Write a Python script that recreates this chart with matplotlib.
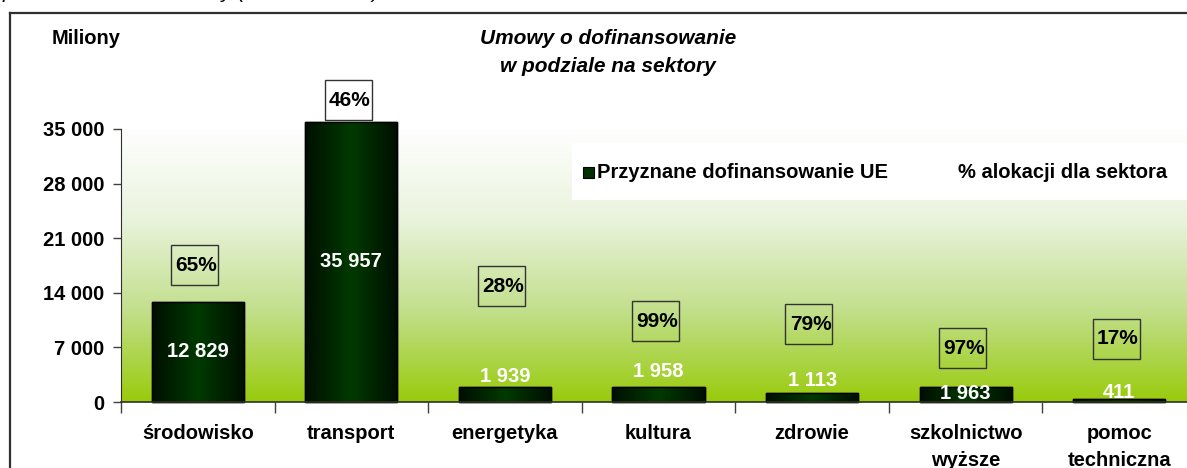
import numpy as np
import matplotlib
matplotlib.use("Agg")
import matplotlib.pyplot as plt
from matplotlib.colors import LinearSegmentedColormap
from matplotlib.patches import Rectangle
from matplotlib.lines import Line2D

plt.rcParams['font.family'] = ['Liberation Sans', 'DejaVu Sans']

# ---------------- data ----------------
categories = ["środowisko", "transport", "energetyka", "kultura", "zdrowie",
              "szkolnictwo\nwyższe", "pomoc\ntechniczna"]
values = [12829, 35957, 1939, 1958, 1113, 1963, 411]
value_labels = ["12 829", "35 957", "1 939", "1 958", "1 113", "1 963", "411"]
pct_labels = ["65%", "46%", "28%", "99%", "79%", "97%", "17%"]
yticks = [0, 7000, 14000, 21000, 28000, 35000]
ytick_labels = ["0", "7 000", "14 000", "21 000", "28 000", "35 000"]

# ---------------- layout (label placement, data units) ----------------
value_label_y = [None, None, 3333, 3974, 2820, 1026, 1282]   # None -> middle of bar
pct_box_y = [17560, 38700, 14870, 10380, 10000, 6920, 8080]

W, H = 1187, 468
fig = plt.figure(figsize=(W / 100, H / 100), dpi=100)

ax_left, ax_right = 121, 1196
ax_bottom, ax_top = 402, 129
ax = fig.add_axes([ax_left / W, (H - ax_bottom) / H,
                   (ax_right - ax_left) / W, (ax_bottom - ax_top) / H])
ymax = 35000
x = np.arange(len(categories))

# background gradient (white -> yellow green)
bg = LinearSegmentedColormap.from_list("bg", ["#99cb0c", "#c2df8c", "#e9f3dc", "#ffffff"])
grad = np.linspace(0, 1, 256).reshape(-1, 1)
ax.imshow(grad, cmap=bg, extent=[0, 1, 0, 1], transform=ax.transAxes,
          aspect='auto', origin='lower', zorder=0)
ax.patch.set_visible(False)

# bars with horizontal gradient
bars = ax.bar(x, values, width=0.6, color="#003000", edgecolor="black",
              linewidth=1.0, zorder=2, clip_on=False)
barcmap = LinearSegmentedColormap.from_list("bar", ["#000f00", "#003a00", "#000f00"])
hgrad = np.linspace(0, 1, 128).reshape(1, -1)
for b in bars:
    im = ax.imshow(hgrad, cmap=barcmap, aspect='auto',
                   extent=[b.get_x(), b.get_x() + b.get_width(), 0, b.get_height()],
                   zorder=2.5)
    im.set_clip_path(b)
    b2 = Rectangle((b.get_x(), 0), b.get_width(), b.get_height(), fill=False,
                   edgecolor="black", linewidth=1.0, zorder=2.6, clip_on=False)
    ax.add_patch(b2)

# value labels
for i, v in enumerate(values):
    yy = v / 2 if value_label_y[i] is None else value_label_y[i]
    ax.text(x[i], yy, value_labels[i], ha='center', va='center', color='white',
            fontsize=14.5, fontweight='bold', zorder=4)

# percentage boxes
px_per_x = (ax_right - ax_left) / 7.0
px_per_y = (ax_bottom - ax_top) / ymax
bw, bh = 47 / px_per_x, 40 / px_per_y
for i, p in enumerate(pct_labels):
    r = Rectangle((x[i] - bw / 2 - 0.02, pct_box_y[i] - bh / 2), bw, bh, fill=False,
                  edgecolor="#333333", linewidth=1.0, zorder=4, clip_on=False)
    ax.add_patch(r)
    ax.text(x[i] - 0.01, pct_box_y[i], p, ha='center', va='center', color='black',
            fontsize=15, fontweight='bold', zorder=5, clip_on=False)

ax.set_xlim(-0.5, 6.5)
ax.set_ylim(0, ymax)

ax.set_yticks(yticks)
ax.set_yticklabels(ytick_labels, fontsize=14.5, fontweight='bold')
ax.tick_params(axis='y', direction='out', length=6, width=1, color="#404040", pad=6)

ax.set_xticks(x)
ax.set_xticklabels(categories, fontsize=14.5, fontweight='bold', linespacing=1.55,
                   va='top')
ax.tick_params(axis='x', which='major', length=0, pad=16)
ax.set_xticks(np.arange(-0.5, 7.0, 1.0), minor=True)
ax.tick_params(axis='x', which='minor', direction='out', length=8, width=1,
               color="#404040")

for s in ['top', 'right']:
    ax.spines[s].set_visible(False)
ax.spines['left'].set_color("#303030")
ax.spines['bottom'].set_color("#303020")
ax.spines['bottom'].set_linewidth(1.2)
ax.spines['left'].set_zorder(3)
ax.spines['bottom'].set_zorder(3)

# legend (white box)
def fx(px):
    return px / W

def fy(py):
    return (H - py) / H

leg = Rectangle((fx(572), fy(200)), fx(1200) - fx(572), fy(143) - fy(200),
                transform=fig.transFigure, facecolor='white', edgecolor='none',
                zorder=3.5, clip_on=False)
ax.add_patch(leg)
mk = Rectangle((fx(583), fy(178)), fx(594) - fx(583), fy(167) - fy(178),
               transform=fig.transFigure, facecolor='#003000', edgecolor='black',
               linewidth=0.8, zorder=4, clip_on=False)
ax.add_patch(mk)
fig.text(fx(597), fy(172), "Przyznane dofinansowanie UE", ha='left', va='center',
         fontsize=14.5, fontweight='bold')
fig.text(fx(958), fy(172), "% alokacji dla sektora", ha='left', va='center',
         fontsize=14.5, fontweight='bold')

# titles
fig.text(fx(86), fy(38), "Miliony", ha='center', va='center', fontsize=14.5,
         fontweight='bold')
fig.text(fx(608), fy(52), "Umowy o dofinansowanie\nw podziale na sektory",
         ha='center', va='center', fontsize=15, fontweight='bold', style='italic',
         linespacing=1.6)

# cut-off caption at the very top (only its lower part is visible)
fig.text(fx(3), fy(-2), "podział umów na sektory (dane w mln zł)", ha='left',
         va='baseline', fontsize=15, style='italic')

# outer frame
fig.add_artist(Line2D([fx(10), fx(10)], [fy(13), fy(470)], transform=fig.transFigure,
                      color="#303030", linewidth=1.6))
fig.add_artist(Line2D([fx(10), fx(1190)], [fy(13), fy(13)], transform=fig.transFigure,
                      color="#303030", linewidth=1.6))

fig.savefig("out.png", dpi=100)
